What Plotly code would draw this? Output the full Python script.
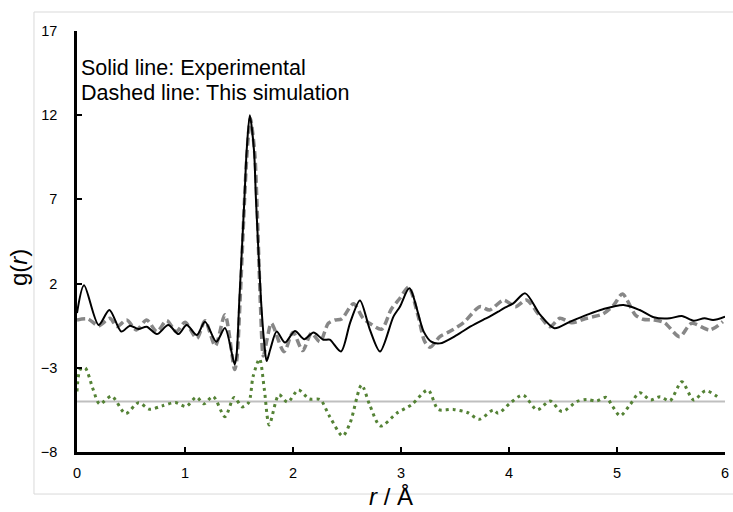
import plotly.graph_objects as go

# Experimental g(r) (solid black)
r_exp = [0, 0.065, 0.2, 0.30, 0.41, 0.49, 0.57, 0.645, 0.74, 0.845, 0.94, 1.015, 1.11, 1.185,
         1.29, 1.37, 1.46, 1.478, 1.503, 1.55, 1.571, 1.60, 1.639, 1.657, 1.704, 1.735, 1.756, 1.79,
         1.849, 1.926, 2.018, 2.105, 2.19, 2.28, 2.34, 2.444, 2.53, 2.62, 2.71, 2.806, 2.93,
         2.99, 3.077, 3.21, 3.28, 3.36, 3.516, 3.64, 3.76, 3.82, 3.9, 3.95, 4.04, 4.15, 4.29,
         4.42, 4.565, 4.72, 4.87, 5.06, 5.21, 5.34, 5.49, 5.6, 5.71, 5.81, 5.89, 6.0]
g_exp = [0.25, 1.9, -0.46, 0.43, -0.85, -0.5, -0.7, -0.56, -1.0, -0.46, -1.0, -0.46, -1.05, -0.26,
         -1.45, -0.64, -2.8, -2.2, 1.0, 7.0, 9.9, 12.0, 9.9, 7.0, 1.0, -1.6, -2.6, -1.9,
         -0.85, -1.5, -0.81, -1.3, -0.9, -1.33, -1.33, -2.03, -0.3, 1.0, -0.7, -2.03, 0.04,
         0.63, 1.72, -0.85, -1.45, -1.55, -1.06, -0.56, -0.15, 0.04, 0.33, 0.53, 0.83, 1.42, 0.14,
         -0.65, -0.26, 0.14, 0.48, 0.73, 0.43, 0.0, -0.06, 0.08, -0.2, -0.06, -0.16, 0.04]

# Simulated g(r) (dashed grey)
r_sim = [0, 0.1, 0.2, 0.305, 0.37, 0.46, 0.55, 0.645, 0.74, 0.83, 0.92, 1.0, 1.11, 1.185, 1.28,
         1.37, 1.46, 1.48, 1.51, 1.55, 1.575, 1.605, 1.645, 1.665, 1.70, 1.725, 1.76, 1.80, 1.917,
         2.0, 2.09, 2.17, 2.25, 2.327, 2.39, 2.45, 2.56, 2.65, 2.72, 2.82, 2.91, 2.99, 3.07, 3.16,
         3.22, 3.27, 3.36, 3.45, 3.58, 3.73, 3.82, 3.95, 4.06, 4.16, 4.29, 4.38, 4.47, 4.58, 4.72,
         4.87, 4.97, 5.05, 5.17, 5.24, 5.34, 5.44, 5.58, 5.69, 5.86, 5.98]
g_sim = [-0.16, -0.1, -0.5, -0.06, -0.55, -0.16, -0.75, -0.16, -0.85, -0.2, -0.85, -0.3, -1.25, -0.2,
         -1.7, 0.15, -3.1, -2.5, 1.0, 6.8, 9.8, 11.8, 9.8, 7.0, 0.5, -2.3, -1.3, -0.36, -2.04,
         -0.9, -1.98, -0.95, -1.45, -0.36, -0.16, -0.1, 0.8, -0.06, -0.4, -0.71, 0.48, 1.13, 1.78, 0.04,
         -1.45, -1.78, -1.15, -0.85, -0.32, 0.63, 0.43, 1.02, 0.63, 1.02, 0.04, -0.56, -0.06, -0.32, -0.06,
         0.2, 0.73, 1.38, 0.14, -0.12, -0.16, -0.32, -1.15, -0.36, -0.75, -0.26]

# Difference curve (dotted green, offset)
r_diff = [0, 0.03, 0.075, 0.15, 0.21, 0.32, 0.45, 0.57, 0.67, 0.79, 0.91, 1.01, 1.105, 1.175,
          1.26, 1.37, 1.455, 1.53, 1.59, 1.63, 1.69, 1.735, 1.78, 1.87, 1.95, 2.05, 2.15, 2.25,
          2.34, 2.46, 2.53, 2.635, 2.71, 2.81, 2.96, 3.10, 3.25, 3.345, 3.485, 3.62, 3.725, 3.855,
          3.90, 4.01, 4.13, 4.26, 4.38, 4.49, 4.63, 4.72, 4.81, 4.90, 4.96, 5.03, 5.12, 5.21, 5.31,
          5.4, 5.49, 5.6, 5.71, 5.82, 5.95]
g_diff = [-4.4, -3.1, -3.0, -4.3, -5.15, -4.68, -5.72, -5.07, -5.46, -5.26, -5.06, -5.3, -4.74, -5.14,
          -4.7, -5.9, -4.76, -5.32, -5.06, -3.53, -2.47, -4.3, -6.39, -4.6, -5.04, -4.32, -4.85, -4.88,
          -5.9, -7.05, -6.25, -4.02, -5.2, -6.46, -5.7, -5.18, -4.32, -5.47, -5.47, -5.67, -6.06, -5.5,
          -5.7, -5.1, -4.62, -5.5, -4.97, -5.6, -5.0, -4.88, -4.97, -4.76, -5.3, -5.85, -5.2, -4.48, -4.91,
          -4.72, -4.96, -3.83, -4.91, -4.36, -4.81]

# Zero line of the difference curve
r_base = [0, 6]
g_base = [-5, -5]

x_ticks = [0, 1, 2, 3, 4, 5, 6]
y_ticks = [-8, -3, 2, 7, 12, 17]

tick_font = dict(family="Liberation Sans Narrow, Liberation Sans, Arial", size=14.5, color="#000000")

fig = go.Figure()
fig.add_trace(go.Scatter(x=r_base, y=g_base, mode="lines",
                         line=dict(color="#BFBFBF", width=2), hoverinfo="skip"))
fig.add_trace(go.Scatter(x=r_diff, y=g_diff, mode="lines",
                         line=dict(color="#548235", width=3, dash="3px,4px", shape="spline", smoothing=0.8)))
fig.add_trace(go.Scatter(x=r_sim, y=g_sim, mode="lines",
                         line=dict(color="#878787", width=3.5, dash="8px,4px", shape="spline", smoothing=0.8)))
fig.add_trace(go.Scatter(x=r_exp, y=g_exp, mode="lines",
                         line=dict(color="#000000", width=2, shape="spline", smoothing=0.8)))

fig.update_layout(
    width=733, height=512,
    autosize=False,
    margin=dict(l=77, r=8, t=31, b=60, autoexpand=False),
    paper_bgcolor="white", plot_bgcolor="white",
    showlegend=False,
    font=dict(family="Liberation Sans, Arial", color="#000000"),
    xaxis=dict(range=[0, 6], tickvals=x_ticks, ticks="inside", ticklen=5, tickwidth=2,
               tickcolor="#000000", showline=True, linecolor="#000000", linewidth=2.5,
               showgrid=False, zeroline=False, tickfont=tick_font, ticklabelstandoff=6,
               automargin=False),
    yaxis=dict(range=[-8, 17], tickvals=y_ticks, ticks="inside", ticklen=5, tickwidth=2,
               tickcolor="#000000", showline=True, linecolor="#000000", linewidth=2.5,
               showgrid=False, zeroline=False, tickfont=tick_font, ticklabelstandoff=14,
               automargin=False),
    shapes=[dict(type="rect", xref="paper", yref="paper", x0=-0.0664, x1=1.05, y0=-0.0998, y1=1.0451,
                 line=dict(color="#D9D9D9", width=1), fillcolor="rgba(0,0,0,0)", layer="below")],
    annotations=[
        dict(text="Solid line: Experimental", xref="paper", yref="paper", x=0.003, y=(452 - 68) / 421,
             xanchor="left", yanchor="middle", showarrow=False,
             font=dict(family="Liberation Sans, Arial", size=21.5, color="#000000")),
        dict(text="Dashed line: This simulation", xref="paper", yref="paper", x=0.003, y=(452 - 93) / 421,
             xanchor="left", yanchor="middle", showarrow=False,
             font=dict(family="Liberation Sans, Arial", size=21.5, color="#000000")),
        dict(text="g(<i>r</i>)", xref="paper", yref="paper", x=(18 - 77) / 648, y=(452 - 268) / 421,
             xanchor="center", yanchor="middle", textangle=-90, showarrow=False,
             font=dict(family="Liberation Sans, Arial", size=24, color="#000000")),
        dict(text="<i>r</i> / Å", xref="paper", yref="paper", x=0.485, y=(452 - 512) / 421,
             xanchor="center", yanchor="bottom", showarrow=False,
             font=dict(family="Liberation Sans, Arial", size=24, color="#000000")),
    ],
)

fig.write_html("out.html")
